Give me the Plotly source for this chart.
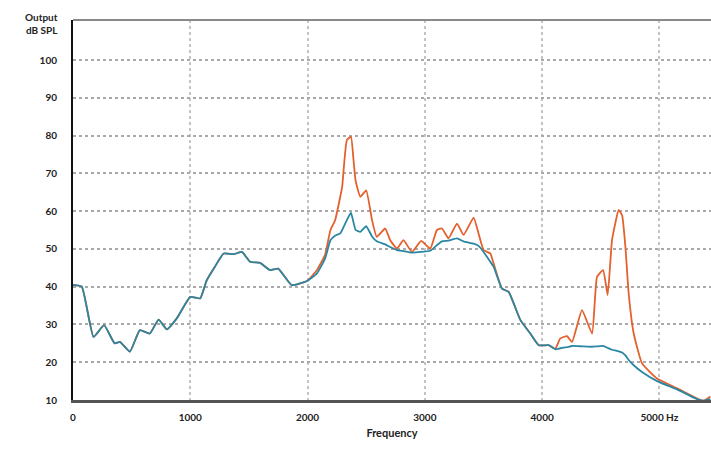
import plotly.graph_objects as go

freq = [0, 75, 175, 265, 355, 400, 485, 570, 655, 730, 800, 885, 1000, 1085, 1140,
        1210, 1285, 1370, 1440, 1510, 1595, 1680, 1750, 1865, 1995, 2080, 2150, 2195,
        2235, 2280, 2295, 2335, 2370, 2392, 2410, 2450, 2500, 2550, 2590, 2662, 2705,
        2762, 2818, 2890, 2969, 3046, 3103, 3146, 3202, 3274, 3330, 3416, 3458, 3501,
        3558, 3586, 3658, 3715, 3814, 3899, 3970, 4056, 4113, 4155, 4212, 4255, 4340,
        4426, 4468, 4520, 4559, 4596, 4653, 4682, 4710, 4738, 4781, 4852, 4980, 5151,
        5322, 5378, 5435]

orange = [40.5, 40, 26.7, 29.8, 25, 25.4, 22.8, 28.5, 27.6, 31.3, 28.7, 31.6, 37.3, 36.9, 41.7,
          45.3, 48.8, 48.6, 49.2, 46.6, 46.3, 44.4, 44.8, 40.4, 41.5, 44.4, 48.5, 55,
          57.6, 64, 66.4, 78.8, 79.7, 73.5, 68, 63.8, 65.5, 57.6, 53.2, 55.4, 52.3,
          50.1, 52.3, 49.2, 52.1, 50.1, 55, 55.4, 52.8, 56.7, 53.7, 58.3, 54.1, 49.7,
          48.8, 46.2, 39.5, 38.6, 31.2, 27.6, 24.5, 24.5, 23.6, 26.3, 26.9, 25.4, 33.8,
          27.6, 42.6, 44.4, 37.8, 52.3, 60.3, 58.9, 50.6, 38.2, 27.6, 19.7, 15.7, 13.1,
          10.4, 9.8, 10.9]

blue = [40.5, 40, 26.7, 29.8, 25, 25.4, 22.8, 28.5, 27.6, 31.3, 28.7, 31.6, 37.3, 36.9, 41.7,
        45.3, 48.8, 48.6, 49.2, 46.6, 46.3, 44.4, 44.8, 40.4, 41.5, 43.5, 47.5, 52.3,
        53.5, 54.1, 55, 57.6, 59.6, 57, 55, 54.5, 56, 53.3, 52, 51.2, 50.5,
        49.7, 49.4, 49, 49.2, 49.5, 51, 52, 52.2, 52.8, 52, 51.4, 50.8, 49.2,
        46.6, 45.3, 39.5, 38.6, 31.2, 27.6, 24.5, 24.5, 23.4, 23.7, 24, 24.3, 24.2,
        24.1, 24.2, 24.3, 23.8, 23.3, 22.9, 22.6, 21.8, 20.6, 19.2, 17.4, 15, 12.8,
        10.2, 9.8, 10.2]

y_ticks = [10, 20, 30, 40, 50, 60, 70, 80, 90, 100]
x_ticks = [0, 1000, 2000, 3000, 4000, 5000]
x_labels = ["0", "1000", "2000", "3000", "4000", "5000 Hz"]

FONT = "Lato"

fig = go.Figure()
fig.add_trace(go.Scatter(x=freq, y=orange, mode="lines",
                         line=dict(color="#e4602c", width=1.8, shape="spline", smoothing=0.4),
                         showlegend=False))
fig.add_trace(go.Scatter(x=freq, y=blue, mode="lines",
                         line=dict(color="#2a87a3", width=1.8, shape="spline", smoothing=0.4),
                         showlegend=False))

fig.update_layout(
    width=711, height=450,
    margin=dict(l=73, r=0, t=20, b=50),
    paper_bgcolor="white", plot_bgcolor="white",
    font=dict(family=FONT, size=10, color="#222", weight="bold"),
    xaxis=dict(range=[0, 5440], tickvals=x_ticks, ticktext=x_labels,
               showgrid=True, gridcolor="#c4c4c4", griddash="dot", gridwidth=1.5,
               showline=True, linecolor="#555555", linewidth=3,
               ticks="", ticklabelstandoff=6, zeroline=False,
               title=dict(text="Frequency", standoff=8,
                          font=dict(family=FONT, size=11, color="#222", weight="bold"))),
    yaxis=dict(range=[10, 110.6], tickvals=y_ticks, ticktext=[str(v) for v in y_ticks],
               showgrid=True, gridcolor="#a9a9a9", griddash="dot", gridwidth=1.5,
               showline=True, linecolor="#111111", linewidth=2,
               ticks="", ticklabelstandoff=12, zeroline=False),
    shapes=[dict(type="line", xref="paper", yref="paper", x0=0, x1=1, y0=1, y1=1,
                 line=dict(color="#888888", width=2))],
    annotations=[
        dict(text="Output<br>dB SPL", xref="paper", yref="paper", x=-0.02, y=1.03,
             xanchor="right", yanchor="top", showarrow=False, align="right",
             font=dict(family=FONT, size=10, color="#222", weight="bold")),
    ],
)

fig.write_html("out.html")
